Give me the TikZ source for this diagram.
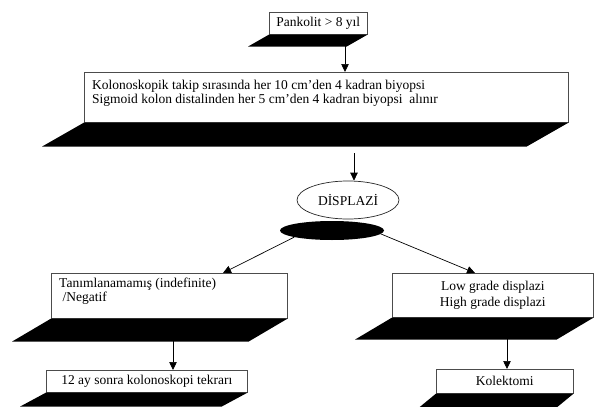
\documentclass[tikz,border=0pt]{standalone}
\usepackage{fontspec}
\setmainfont{Liberation Serif}
\usetikzlibrary{arrows.meta,calc,shapes.geometric}
\newcommand{\plateunder}[3]{\fill[black] (#1.south west) -- (#1.south east) -- ++(#2,#3) -- ($(#1.south west)+(#2,#3)$) -- cycle;}
\newcommand{\twolines}[3]{\vbox{\baselineskip=#1\hbox{#2}\hbox{#3}}}
\begin{document}
\begin{tikzpicture}[x=1pt,y=-1pt,
  box/.style={draw=black!70, line width=0.6pt, fill=white, inner sep=0pt, anchor=north west, font=\fontsize{13.5}{16}\selectfont, align=center},
  txt/.style={inner sep=0pt, anchor=north west, font=\fontsize{13.5}{16}\selectfont},
  arr/.style={line width=0.7pt, -{Triangle[length=8pt,width=7.5pt]}},
]
\useasboundingbox (0,0) rectangle (595,407);

\node[box, minimum width=98pt, minimum height=22pt] (b1) at (269,12) {Pankolit > 8 yıl};
\plateunder{b1}{-21}{12}

\node[box, minimum width=484pt, minimum height=50pt] (b2) at (84,72) {};
\node[txt] (t2) at (92,80) {\twolines{13.5pt}{Kolonoskopik takip sırasında her 10 cm’den 4 kadran biyopsi}{Sigmoid kolon distalinden her 5 cm’den 4 kadran biyopsi\ \ alınır}};
\plateunder{b2}{-42}{24}

\node[ellipse, draw=black!85, line width=0.7pt, fill=white, minimum width=102pt, minimum height=38pt, inner sep=0pt, font=\fontsize{13.5}{16}\selectfont] (e1) at (348,200) {DİSPLAZİ};
\node[ellipse, fill=black, minimum width=104pt, minimum height=19pt, inner sep=0pt] (e2) at (332,230.5) {};

\node[box, minimum width=236pt, minimum height=45pt] (b3) at (51,273) {};
\node[txt] (t3) at (59,278) {\twolines{14pt}{Tanımlanamamış (indefinite)}{\ /Negatif}};
\plateunder{b3}{-39}{23}

\node[box, minimum width=201pt, minimum height=44pt] (b4) at (392,273) {Low grade displazi\\High grade displazi};
\plateunder{b4}{-37}{22}

\node[box, minimum width=201pt, minimum height=22pt] (b5) at (46,370) {12 ay sonra kolonoskopi tekrarı};
\plateunder{b5}{-26}{14}

\node[box, minimum width=137pt, minimum height=24pt] (b6) at (436,369) {Kolektomi};
\plateunder{b6}{-17}{14}

\coordinate (p1) at (345,46);
\draw[arr] (p1) -- (p1 |- b2.north);
\coordinate (p2) at (354,153);
\draw[arr] (p2) -- (p2 |- e1.north);
\coordinate (q3) at ($(b3.north west)+(172,0)$);
\draw[arr] (e2.190) -- (q3);
\coordinate (q4) at ($(b4.north west)+(83,0)$);
\draw[arr] (e2.356) -- (q4);
\coordinate (p5) at (173,341);
\draw[arr] (p5) -- (p5 |- b5.north);
\coordinate (p6) at (507,339);
\draw[arr] (p6) -- (p6 |- b6.north);
\end{tikzpicture}
\end{document}
